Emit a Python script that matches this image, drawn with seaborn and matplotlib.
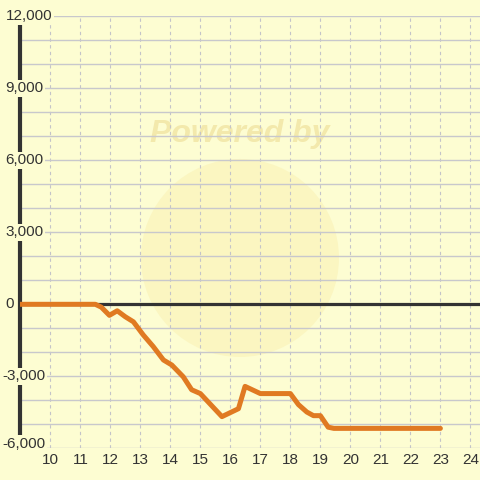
import matplotlib
matplotlib.use("Agg")
import matplotlib.pyplot as plt
import matplotlib.transforms as mtransforms
from matplotlib.patches import Ellipse
import seaborn as sns

hours = [9.0, 11.5, 11.7, 11.97, 12.23, 12.5, 12.77, 13.1, 13.43, 13.77, 14.05,
         14.43, 14.71, 15.0, 15.72, 16.27, 16.49, 17.0, 18.0, 18.27, 18.55,
         18.77, 19.0, 19.26, 19.45, 23.0]
profit = [0, 0, -120, -460, -270, -520, -730, -1280, -1760, -2320, -2530,
          -3020, -3560, -3720, -4680, -4350, -3420, -3720, -3720, -4180, -4490,
          -4640, -4640, -5120, -5170, -5170]
y_ticks = [-6000, -3000, 0, 3000, 6000, 9000, 12000]
x_ticks = list(range(10, 25))

bg = "#fdfdd2"
dark = "#333333"

sns.set_style("white", {"axes.facecolor": bg, "figure.facecolor": bg})
plt.rcParams["font.family"] = ["Liberation Sans", "DejaVu Sans"]

fig = plt.figure(figsize=(4.8, 4.8), dpi=100)
ax = fig.add_axes([20.3 / 480, 1 - 448.3 / 480, 1 - 20.3 / 480, 432 / 480])
ax.set_xlim(9, 24.32)
ax.set_ylim(-6000, 12000)

# watermark
ax.add_patch(Ellipse((16.32, 1930), 6.6, 8250, facecolor="#f8eca8", alpha=0.4,
                     edgecolor="none", zorder=0))
ax.text(16.3, 7100, "Powered by", fontsize=23, fontweight="bold", style="italic",
        color="#f3e9ac", ha="center", va="center", zorder=0)

# grid
ax.set_yticks(range(-6000, 12001, 1000))
ax.set_xticks(range(9, 25))
ax.grid(axis="y", color="#c8c8cc", linewidth=1.0, linestyle="-")
ax.grid(axis="x", color="#c4c4c8", linewidth=0.8, linestyle=(0, (3, 3)))
ax.tick_params(length=0, labelleft=False, labelbottom=False)
for s in ["top", "right", "bottom"]:
    ax.spines[s].set_visible(False)
ax.spines["left"].set_color(dark)
ax.spines["left"].set_linewidth(3.0)
ax.spines["left"].set_zorder(3)

ax.axhline(0, color=dark, linewidth=2.3, zorder=3)

sns.lineplot(x=hours, y=profit, ax=ax, color="#e07a22", linewidth=3.6, zorder=4)

# y labels
ytr = mtransforms.blended_transform_factory(fig.transFigure, ax.transData)
for v in y_ticks:
    xpos = 5.5 if v >= 0 else 2
    ypos = v + 200 if v == -6000 else v
    ax.text(xpos / 480, ypos, f"{v:,}", transform=ytr, ha="left", va="center",
            fontsize=11, color=dark, zorder=6,
            bbox=dict(facecolor=bg, edgecolor="none", pad=1.2))

# x labels
xtr = mtransforms.blended_transform_factory(ax.transData, fig.transFigure)
for v in x_ticks:
    ax.text(v, 1 - 460.5 / 480, str(v), transform=xtr, ha="center", va="center",
            fontsize=11, color=dark, zorder=6)

fig.savefig("out.png", dpi=100, facecolor=bg)
